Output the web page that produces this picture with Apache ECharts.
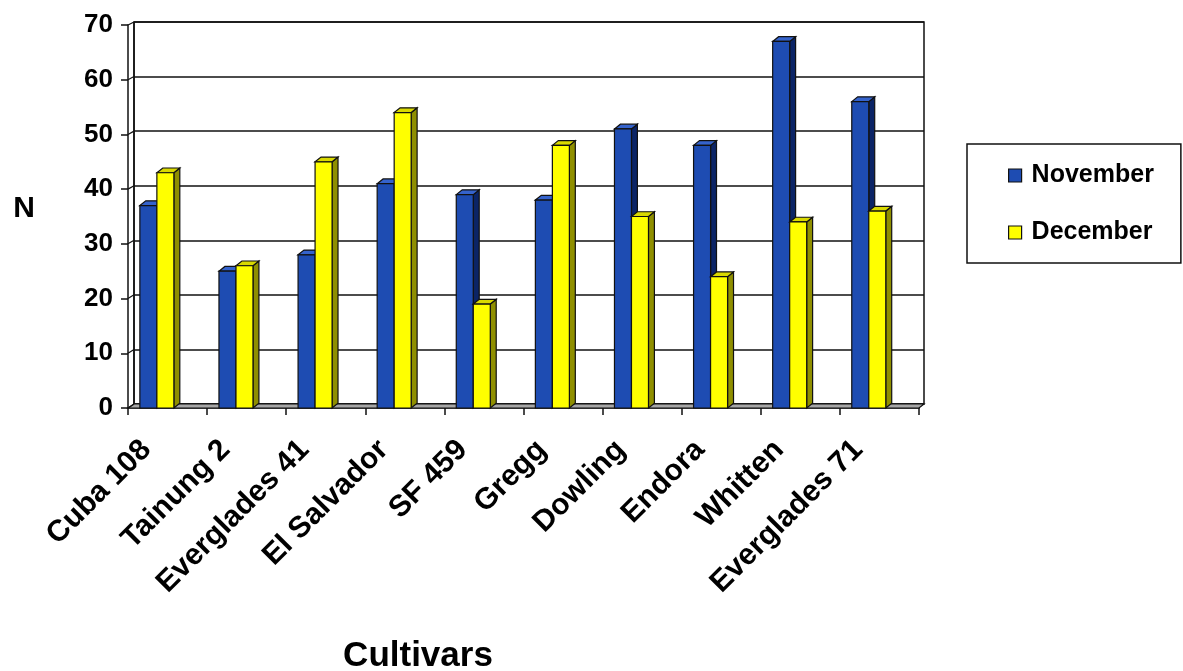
<!DOCTYPE html>
<html>
<head>
<meta charset="utf-8">
<script src="https://cdn.jsdelivr.net/npm/echarts@6/dist/echarts.min.js"></script>
<style>
  html, body { margin: 0; padding: 0; background: #fff; }
  #chart { width: 1183px; height: 671px; }
</style>
</head>
<body>
<div id="chart"></div>
<script>
// Cultivar names along the category axis
const categories = ['Cuba 108', 'Tainung 2', 'Everglades 41', 'El Salvador', 'SF 459',
                    'Gregg', 'Dowling', 'Endora', 'Whitten', 'Everglades 71'];
// N per cultivar, by month
const november = [37, 25, 28, 41, 39, 38, 51, 48, 67, 56];
const december = [43, 26, 45, 54, 19, 48, 35, 24, 34, 36];
// Value axis range
const yMin = 0, yMax = 70, yStep = 10;

const FONT = '"Liberation Sans", Arial, sans-serif';

// Face colours for the pseudo-3D columns: front, side, top
const faces = [
  { front: '#1e4cb2', side: '#0b2466', top: '#3563cc' },
  { front: '#ffff00', side: '#8f8f00', top: '#d9d900' }
];

function columnRenderer(seriesIdx) {
  return function (params, api) {
    const idx = api.value(0);
    const v = api.value(1);
    const base = api.coord([idx, 0]);
    const top = api.coord([idx, v]);
    const band = api.size([1, 0])[0];
    const w = band * 0.215;
    const dx = band * 0.075;
    const dy = band * 0.06;
    const x0 = base[0] - band * 0.35 + seriesIdx * w;
    const yT = top[1], yB = base[1];
    const c = faces[seriesIdx];
    const stroke = { stroke: '#111', lineWidth: 1.2 };
    return {
      type: 'group',
      children: [
        { type: 'polygon',
          shape: { points: [[x0 + w, yT], [x0 + w + dx, yT - dy], [x0 + w + dx, yB - dy], [x0 + w, yB]] },
          style: Object.assign({ fill: c.side }, stroke) },
        { type: 'polygon',
          shape: { points: [[x0, yT], [x0 + dx, yT - dy], [x0 + w + dx, yT - dy], [x0 + w, yT]] },
          style: Object.assign({ fill: c.top }, stroke) },
        { type: 'rect',
          shape: { x: x0, y: yT, width: w, height: yB - yT },
          style: Object.assign({ fill: c.front }, stroke) }
      ]
    };
  };
}

const chart = echarts.init(document.getElementById('chart'), null, { renderer: 'canvas' });

chart.setOption({
  animation: false,
  backgroundColor: '#fff',
  grid: [
    // back wall
    { left: 134, right: 259, top: 22, bottom: 267, show: true,
      borderColor: '#111', borderWidth: 1.5, backgroundColor: 'transparent', z: 0 },
    // front plane carrying the axes and columns
    { left: 128, right: 264, top: 25, bottom: 263, z: 1 }
  ],
  xAxis: [
    { gridIndex: 0, type: 'value', min: 0, max: 1, show: false },
    { gridIndex: 1, type: 'category', data: categories,
      axisLine: { show: true, lineStyle: { color: '#111', width: 1.5 } },
      axisTick: { show: true, length: 7, inside: false, lineStyle: { color: '#111', width: 1.5 } },
      axisLabel: { rotate: 45, margin: 16, interval: 0, color: '#000',
                   fontFamily: FONT, fontWeight: 'bold', fontSize: 30,
                   padding: [0, 30, 0, 0] },
      splitLine: { show: false } }
  ],
  yAxis: [
    { gridIndex: 0, type: 'value', min: yMin, max: yMax, interval: yStep,
      axisLine: { show: false }, axisTick: { show: false }, axisLabel: { show: false },
      splitLine: { show: true, lineStyle: { color: '#111', width: 1.5 } } },
    { gridIndex: 1, type: 'value', min: yMin, max: yMax, interval: yStep,
      axisLine: { show: true, onZero: false, lineStyle: { color: '#111', width: 1.5 } },
      axisTick: { show: true, length: 7, inside: false, lineStyle: { color: '#111', width: 1.5 } },
      axisLabel: { margin: 15, color: '#000', fontFamily: FONT, fontWeight: 'bold', fontSize: 26 },
      splitLine: { show: false } }
  ],
  legend: {
    orient: 'vertical',
    left: 967, top: 144,
    padding: [19, 27, 18, 41],
    itemGap: 32,
    itemWidth: 13, itemHeight: 13,
    icon: 'rect',
    borderColor: '#111', borderWidth: 1.5,
    itemStyle: { borderColor: '#111', borderWidth: 1.2 },
    textStyle: { color: '#000', fontFamily: FONT, fontWeight: 'bold', fontSize: 25,
                 padding: [0, 0, 0, 5] },
    data: ['November', 'December']
  },
  series: [
    { name: 'November', type: 'custom', xAxisIndex: 1, yAxisIndex: 1, z: 3,
      itemStyle: { color: faces[0].front },
      renderItem: columnRenderer(0),
      encode: { x: 0, y: 1 },
      data: november.map((v, i) => [i, v]) },
    { name: 'December', type: 'custom', xAxisIndex: 1, yAxisIndex: 1, z: 4,
      itemStyle: { color: faces[1].front },
      renderItem: columnRenderer(1),
      encode: { x: 0, y: 1 },
      data: december.map((v, i) => [i, v]) }
  ]
});

// Floor, side-wall links and axis titles, placed from the grids' own geometry
const gridRect = i => chart.getModel().getComponent('grid', i).coordinateSystem.getRect();
const fr = gridRect(1), br = gridRect(0);
const fb = fr.y + fr.height, bb = br.y + br.height;
const extras = [
  { type: 'polygon', z: 2,
    shape: { points: [[fr.x, fb], [fr.x + fr.width, fb], [br.x + br.width, bb], [br.x, bb]] },
    style: { fill: '#a6a6a6', stroke: '#111', lineWidth: 1.2 } }
];
for (let v = yMin; v <= yMax; v += yStep) {
  const yf = chart.convertToPixel({ yAxisIndex: 1 }, v);
  const yb = chart.convertToPixel({ yAxisIndex: 0 }, v);
  extras.push({ type: 'line', z: 2,
    shape: { x1: fr.x, y1: yf, x2: br.x, y2: yb },
    style: { stroke: '#111', lineWidth: 1.2 } });
}
extras.push({ type: 'line', z: 2,
  shape: { x1: br.x, y1: br.y, x2: br.x, y2: bb },
  style: { stroke: '#111', lineWidth: 1.5 } });
extras.push({ type: 'text', x: 24, y: 209, z: 5,
  style: { text: 'N', font: 'bold 30px ' + FONT, fill: '#000',
           textAlign: 'center', textVerticalAlign: 'middle' } });
extras.push({ type: 'text', x: 418, y: 656, z: 5,
  style: { text: 'Cultivars', font: 'bold 35px ' + FONT, fill: '#000',
           textAlign: 'center', textVerticalAlign: 'middle' } });
chart.setOption({ graphic: extras });
</script>
</body>
</html>
